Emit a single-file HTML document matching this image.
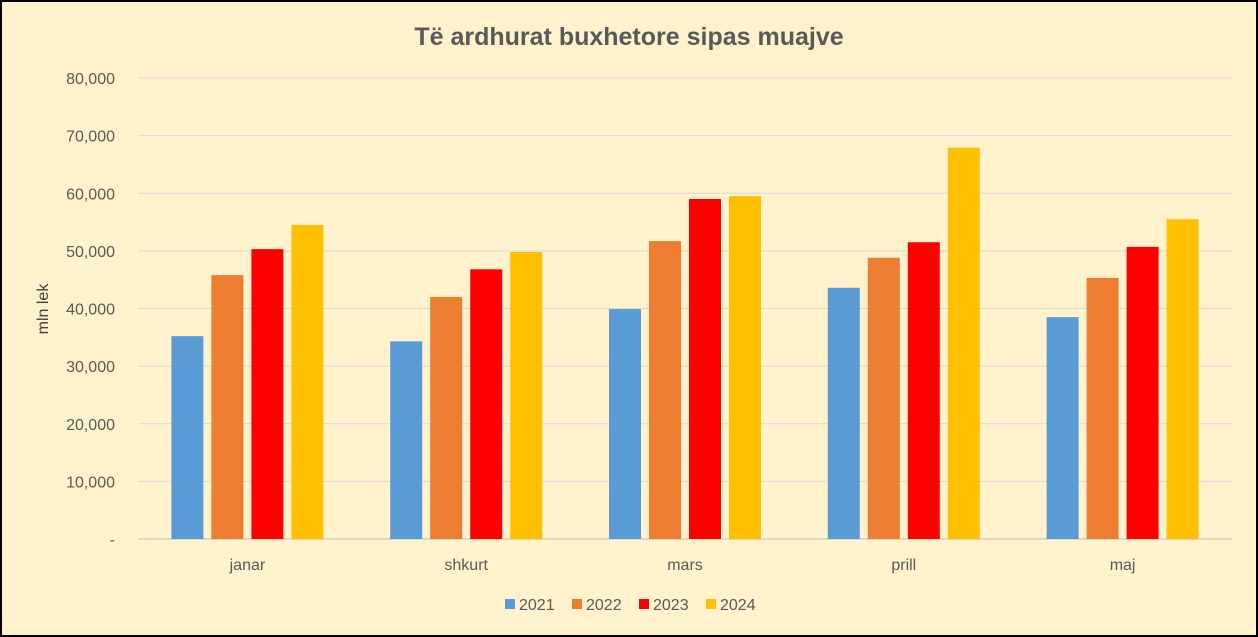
<!DOCTYPE html>
<html><head><meta charset="utf-8"><style>
html,body{margin:0;padding:0;background:#fff}
svg{display:block;font-family:"Liberation Sans",sans-serif}
</style></head><body>
<svg id="chart" width="1258" height="637" viewBox="0 0 1258 637">
<rect x="1" y="1" width="1256" height="635" fill="#FFF2CC" stroke="#000" stroke-width="2"/>
<text x="629" y="45" text-anchor="middle" font-size="25" font-weight="bold" fill="#595959">Të ardhurat buxhetore sipas muajve</text>
<text transform="translate(48,309) rotate(-90)" text-anchor="middle" font-size="16" fill="#404040">mln lek</text>
<g id="grid"></g><g id="bars"></g><g id="labels"></g>
<g id="legend"></g>
</svg>
<script>
const categories=["janar","shkurt","mars","prill","maj"];
const seriesNames=["2021","2022","2023","2024"];
const colors=["#5B9BD5","#ED7D31","#FF0000","#FFC000"];
const s2021=[35200,34300,39900,43600,38500];
const s2022=[45800,42000,51700,48800,45300];
const s2023=[50300,46800,59000,51500,50700];
const s2024=[54500,49800,59500,67900,55500];
const ticks=[0,10000,20000,30000,40000,50000,60000,70000,80000];
const tickLabels=["-","10,000","20,000","30,000","40,000","50,000","60,000","70,000","80,000"];
const series=[s2021,s2022,s2023,s2024];
const NS="http://www.w3.org/2000/svg";
const x0=138,x1=1232,y0=539,y1=78,ymax=80000;
const y=v=>y0-(v/ymax)*(y0-y1);
const bw=(x1-x0)/categories.length;
function mk(t,a,p){const e=document.createElementNS(NS,t);for(const k in a)e.setAttribute(k,a[k]);p.appendChild(e);return e;}
const g=document.getElementById('grid'),b=document.getElementById('bars'),l=document.getElementById('labels'),lg=document.getElementById('legend');
ticks.forEach((t,i)=>{
 const ln=mk('line',{x1:x0,x2:x1,y1:y(t),y2:y(t),stroke:i==0?'#BFBFBF':'#D9D9D9','stroke-width':1},g);
 
 
 const tx=mk('text',{x:115,y:y(t)+6,'text-anchor':'end','font-size':16,fill:'#595959'},l);
 tx.textContent=tickLabels[i];
 
 
});
const barW=32,gap=8;
categories.forEach((c,ci)=>{
 const cx=x0+bw*(ci+0.5);
 const start=cx-(4*barW+3*gap)/2;
 series.forEach((s,si)=>{
  const r=mk('rect',{x:start+si*(barW+gap),y:y(s[ci]),width:barW,height:y0-y(s[ci]),fill:colors[si]},b);
  
  
 });
 const tx=mk('text',{x:cx,y:570,'text-anchor':'middle','font-size':16,fill:'#595959'},l);
 tx.textContent=c;
 
 
});
seriesNames.forEach((n,i)=>{
 const lx=505+i*67;
 const r=mk('rect',{x:lx,y:599,width:10,height:10,fill:colors[i]},lg);
 
 
 const tx=mk('text',{x:lx+14,y:610,'font-size':16,fill:'#595959'},lg);
 tx.textContent=n;
 
 
});
</script>
</body></html>
